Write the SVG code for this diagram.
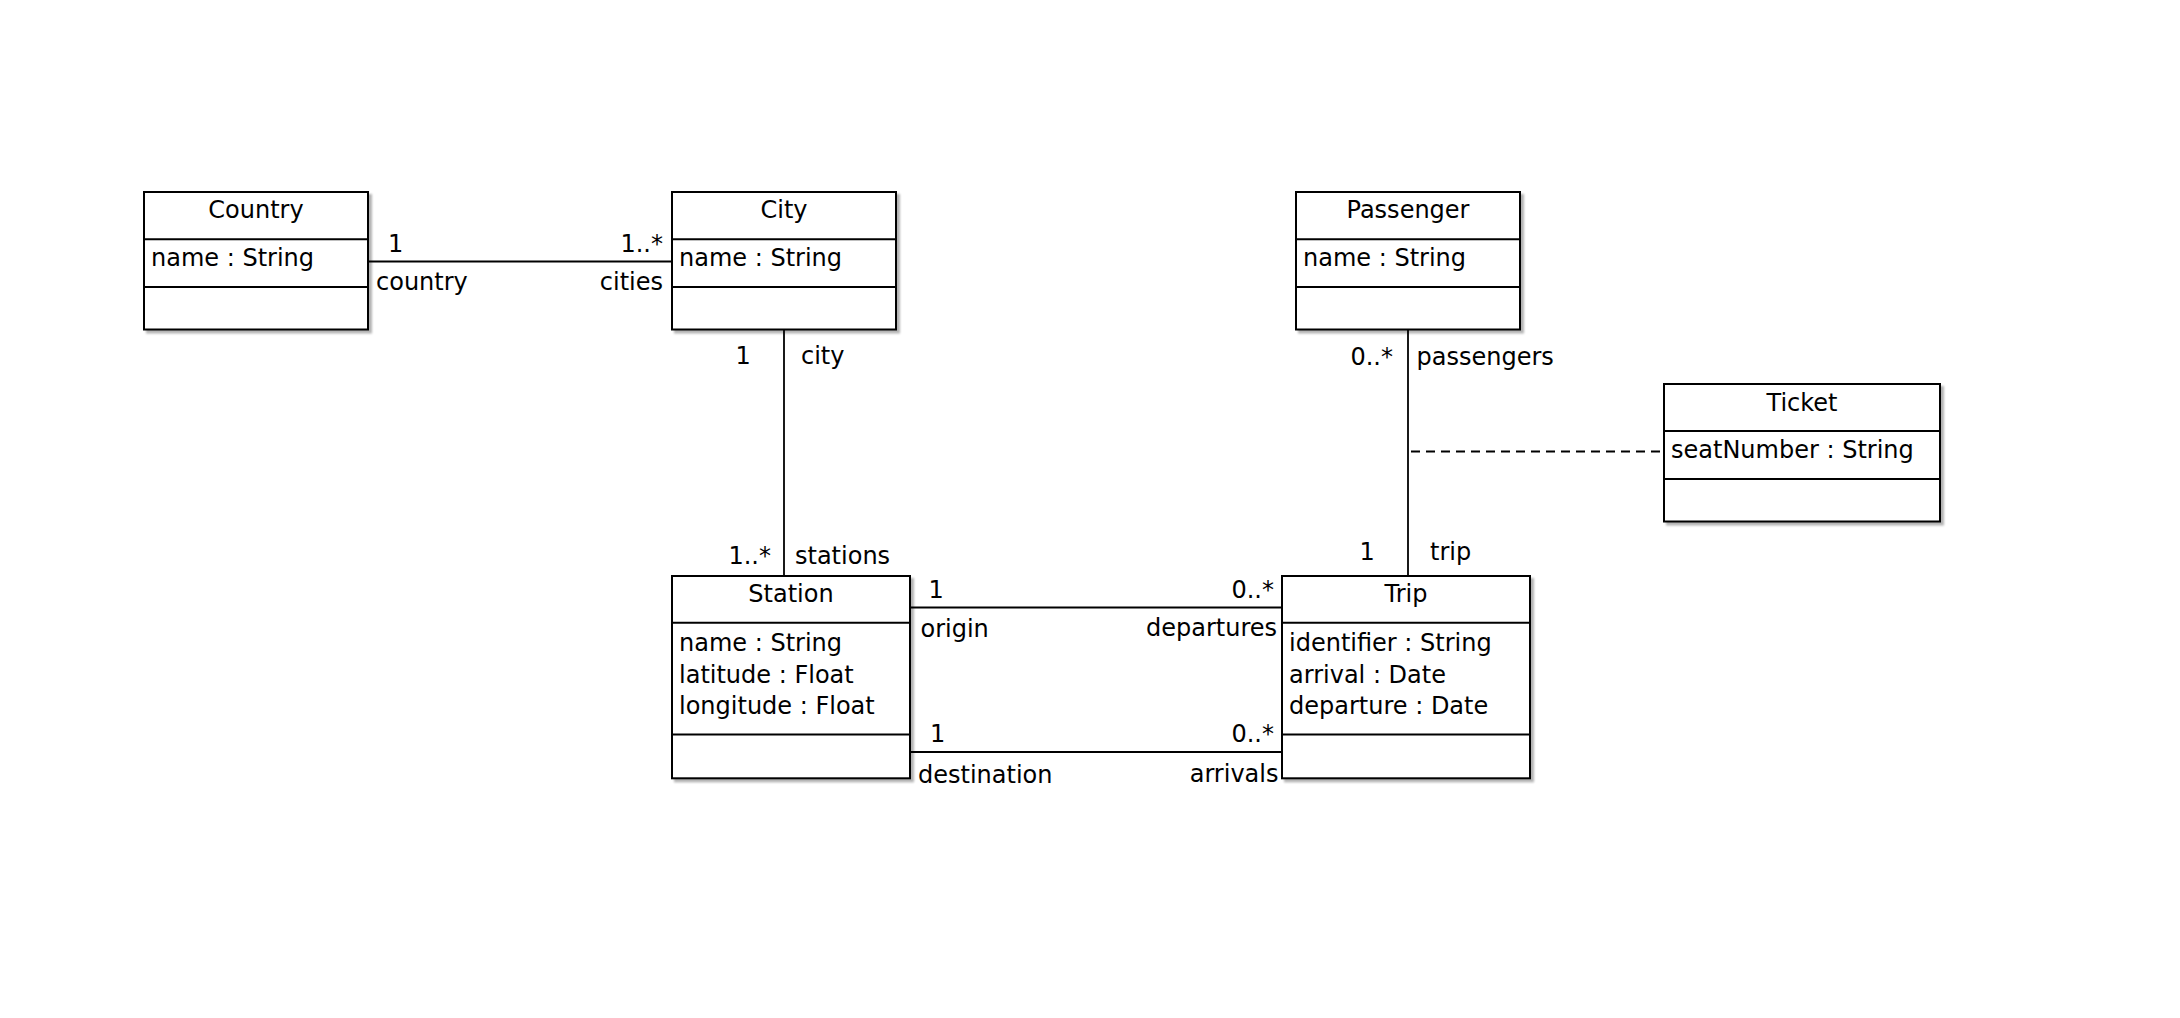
<svg xmlns="http://www.w3.org/2000/svg" width="2180" height="1018" viewBox="0 0 2180 1018">
<style>
text{font-family:"DejaVu Sans","Liberation Sans",sans-serif;font-size:24px;fill:#000}
.box{fill:#fff;stroke:#000;stroke-width:2;filter:url(#sh)}
.div{stroke:#000;stroke-width:2}
.c{text-anchor:middle}
.e{text-anchor:end}
.ln{stroke:#000;stroke-width:1.8;fill:none}
.dash{stroke-dasharray:9,6}
</style>
<defs>
<filter id="sh" x="-5%" y="-5%" width="115%" height="115%">
<feGaussianBlur in="SourceAlpha" stdDeviation="1.2"/>
<feOffset dx="3" dy="3" result="b"/>
<feComponentTransfer><feFuncA type="linear" slope="0.3"/></feComponentTransfer>
<feMerge><feMergeNode/><feMergeNode in="SourceGraphic"/></feMerge>
</filter>
</defs>
<rect width="2180" height="1018" fill="#fff"/>

<g id="connectors">
<line class="ln" x1="365" y1="261.5" x2="672" y2="261.5"/>
<line class="ln" x1="784" y1="327" x2="784" y2="576"/>
<line class="ln" x1="1408" y1="327" x2="1408" y2="576"/>
<line class="ln dash" x1="1411" y1="451.5" x2="1664" y2="451.5"/>
<line class="ln" x1="907" y1="607.5" x2="1282" y2="607.5"/>
<line class="ln" x1="907" y1="752" x2="1282" y2="752"/>
<text x="388" y="252">1</text>
<text x="376" y="289.5">country</text>
<text class="e" x="663" y="252">1..*</text>
<text class="e" x="663" y="289.5">cities</text>
<text x="735.5" y="364">1</text>
<text x="801" y="363.5">city</text>
<text class="e" x="771" y="563.5">1..*</text>
<text x="795" y="563.5">stations</text>
<text class="e" x="1393" y="365">0..*</text>
<text x="1416.5" y="364.5">passengers</text>
<text x="1359.5" y="560">1</text>
<text x="1430" y="560">trip</text>
<text x="928.5" y="597.5">1</text>
<text x="920.5" y="636.5">origin</text>
<text class="e" x="1274" y="597.5">0..*</text>
<text class="e" x="1277" y="636">departures</text>
<text x="930" y="742">1</text>
<text x="918" y="782.5">destination</text>
<text class="e" x="1274" y="742">0..*</text>
<text class="e" x="1278.5" y="781.5">arrivals</text>
</g>

<g id="Country">
<rect class="box" x="144" y="192" width="224" height="137.5"/>
<line class="div" x1="144" y1="239.3" x2="368" y2="239.3"/>
<line class="div" x1="144" y1="287" x2="368" y2="287"/>
<text class="c" x="256" y="218">Country</text>
<text x="151" y="266">name : String</text>
</g>

<g id="City">
<rect class="box" x="672" y="192" width="224" height="137.5"/>
<line class="div" x1="672" y1="239.3" x2="896" y2="239.3"/>
<line class="div" x1="672" y1="287" x2="896" y2="287"/>
<text class="c" x="784" y="218">City</text>
<text x="679" y="266">name : String</text>
</g>

<g id="Passenger">
<rect class="box" x="1296" y="192" width="224" height="137.5"/>
<line class="div" x1="1296" y1="239.3" x2="1520" y2="239.3"/>
<line class="div" x1="1296" y1="287" x2="1520" y2="287"/>
<text class="c" x="1408" y="218">Passenger</text>
<text x="1303" y="266">name : String</text>
</g>

<g id="Ticket">
<rect class="box" x="1664" y="384" width="276" height="137.5"/>
<line class="div" x1="1664" y1="431" x2="1940" y2="431"/>
<line class="div" x1="1664" y1="479" x2="1940" y2="479"/>
<text class="c" x="1802" y="411">Ticket</text>
<text x="1671" y="458">seatNumber : String</text>
</g>

<g id="Station">
<rect class="box" x="672" y="576" width="238" height="202.3"/>
<line class="div" x1="672" y1="622.7" x2="910" y2="622.7"/>
<line class="div" x1="672" y1="734.5" x2="910" y2="734.5"/>
<text class="c" x="791" y="602">Station</text>
<text x="679" y="650.5">name : String</text>
<text x="679" y="682.5">latitude : Float</text>
<text x="679" y="714">longitude : Float</text>
</g>

<g id="Trip">
<rect class="box" x="1282" y="576" width="248" height="202.3"/>
<line class="div" x1="1282" y1="622.7" x2="1530" y2="622.7"/>
<line class="div" x1="1282" y1="734.5" x2="1530" y2="734.5"/>
<text class="c" x="1406" y="602">Trip</text>
<text x="1289" y="651">identifier : String</text>
<text x="1289" y="682.5">arrival : Date</text>
<text x="1289" y="714">departure : Date</text>
</g>
</svg>
